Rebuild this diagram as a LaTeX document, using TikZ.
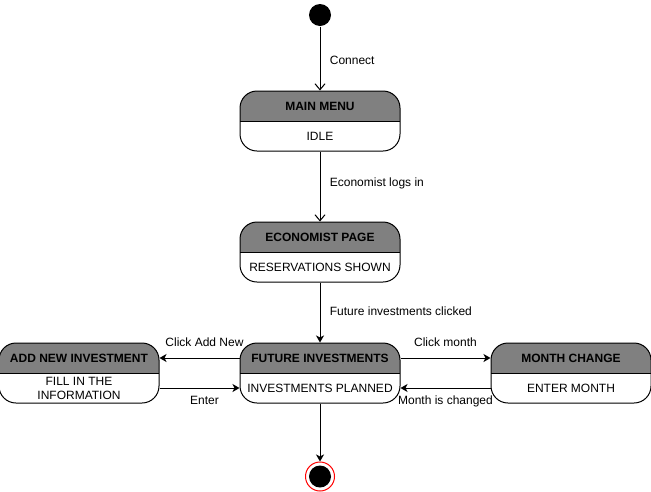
\documentclass[tikz,border=0pt]{standalone}
\usepackage{fontspec}
\setmainfont{Liberation Sans}
\usetikzlibrary{arrows.meta,positioning}
\definecolor{headgray}{RGB}{128,128,128}
\newcommand{\stparts}[2]{\vbox{\offinterlineskip
  \hbox{\parbox[c][30pt]{156pt}{\centering\bfseries #1}}
  \hbox{\parbox[c][30pt]{156pt}{\centering #2}}}}
\tikzset{
  statebox/.style={draw, line width=1pt, rounded corners=17pt, inner sep=0pt,
    minimum width=160pt, minimum height=60pt,
    path picture={\fill[headgray, sharp corners] (path picture bounding box.north west) rectangle (path picture bounding box.east);
      \draw[line width=1pt] (path picture bounding box.west) -- (path picture bounding box.east);}},
  startdot/.style={circle, fill=black, minimum size=22pt, inner sep=0pt},
  enddot/.style={circle, draw=red, fill=white, line width=1pt, minimum size=29pt, inner sep=0pt,
    path picture={\fill[black] (path picture bounding box.center) circle (11pt);}},
  openarr/.style={-{Straight Barb[length=6pt,width=10pt]}},
  fullarr/.style={-{Stealth[length=7pt,width=8pt,inset=2pt]}},
  lbl/.style={font=\fontsize{12}{14}\selectfont, text height=9pt, text depth=2.5pt}
}
\begin{document}
\begin{tikzpicture}[line width=1pt, font=\fontsize{12}{14}\selectfont]
	\useasboundingbox (0,0) rectangle (651pt,-491pt);
	
	\node[startdot] (start) at (320pt,-15pt) {};
	\node[statebox] (main)  [below=64pt of start] {\stparts{MAIN MENU}{IDLE}};
	\node[statebox] (econ)  [below=70pt of main] {\stparts{ECONOMIST PAGE}{RESERVATIONS SHOWN}};
	\node[statebox] (fut)   [below=60pt of econ] {\stparts{FUTURE INVESTMENTS}{INVESTMENTS PLANNED}};
	\node[statebox] (addnew) [left=80pt of fut] {\stparts{ADD NEW INVESTMENT}{FILL IN THE\\INFORMATION}};
	\node[statebox] (month) [right=90pt of fut] {\stparts{MONTH CHANGE}{ENTER MONTH}};
	\node[enddot]   (final) [below=58pt of fut] {};
	
	\path[openarr] (start) edge node[lbl, right=6pt, pos=0.55] {Connect} (main);
	\path[openarr] (main) edge node[lbl, right=6pt, pos=0.45] {Economist logs in} (econ);
	\path[fullarr] (econ) edge node[lbl, right=6pt] {Future investments clicked} (fut);
	\path[fullarr] ([yshift=15pt]fut.west) edge node[lbl, above=5pt, xshift=5pt] {Click Add New} ([yshift=15pt]addnew.east);
	\path[fullarr] ([yshift=-15pt]addnew.east) edge node[lbl, below=4pt, xshift=5pt] {Enter} ([yshift=-15pt]fut.west);
	\path[fullarr] ([yshift=15pt]fut.east) edge node[lbl, above=5pt] {Click month} ([yshift=15pt]month.west);
	\path[fullarr] ([yshift=-15pt]month.west) edge node[lbl, below=4pt] {Month is changed} ([yshift=-15pt]fut.east);
	\path[fullarr] (fut) edge (final);
\end{tikzpicture}
\end{document}
